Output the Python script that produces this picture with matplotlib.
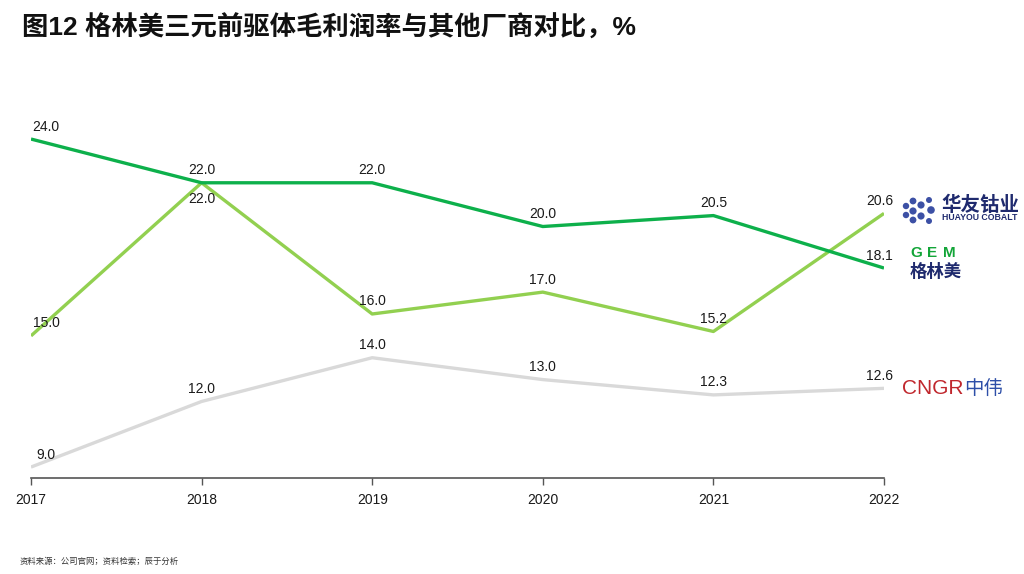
import matplotlib
matplotlib.use("Agg")
import matplotlib.pyplot as plt
from matplotlib.patches import Circle

plt.rcParams['font.family'] = ['Liberation Sans', 'Noto Sans CJK SC', 'DejaVu Sans']

years = [2017, 2018, 2019, 2020, 2021, 2022]
gem = [24.0, 22.0, 22.0, 20.0, 20.5, 18.1]
huayou = [15.0, 22.0, 16.0, 17.0, 15.2, 20.6]
cngr = [9.0, 12.0, 14.0, 13.0, 12.3, 12.6]

title = "图12 格林美三元前驱体毛利润率与其他厂商对比，%"
source = "资料来源：公司官网；资料检索；辰于分析"

c_gem = "#0DB04B"
c_huayou = "#92D050"
c_cngr = "#D9D9D9"

fig = plt.figure(figsize=(10.24, 5.74), dpi=100)
ax = fig.add_axes([31/1024, 1-478/574, (884-31)/1024, (478-62.5)/574])

ax.plot(years, cngr, color=c_cngr, lw=2.4, solid_capstyle='butt', zorder=2)
ax.plot(years, huayou, color=c_huayou, lw=2.4, solid_capstyle='butt', zorder=3)
ax.plot(years, gem, color=c_gem, lw=2.4, solid_capstyle='butt', zorder=4)

ax.set_xlim(2017, 2022)
ax.set_ylim(8.5, 27.5)

def label(series, below_idx=()):
    for i, (x, v) in enumerate(zip(years, series)):
        dx = 0
        if i == 0:
            dx = 11
        elif i == len(years) - 1:
            dx = -3
        dy = -12 if i in below_idx else 9
        ax.annotate(f"{v:.1f}", (x, v), xytext=(dx, dy), textcoords='offset points',
                    ha='center', va='center', fontsize=10, color='#1a1a1a', zorder=6)

label(gem)
label(huayou, below_idx=(1,))
label(cngr)

for s in ['top', 'right', 'left']:
    ax.spines[s].set_visible(False)
ax.spines['bottom'].set_color('#555555')
ax.spines['bottom'].set_linewidth(1.2)
ax.set_yticks([])
ax.set_xticks(years)
ax.set_xticklabels([str(y) for y in years], fontsize=10, color='#1a1a1a')
ax.tick_params(axis='x', direction='out', length=5, width=1, color='#555555', pad=6)
ax.patch.set_alpha(0)

# Title
fig.text(22/1024, 1-28/574, title, fontsize=19, fontweight='bold', ha='left', va='center', color='#111111')

# Source
fig.text(20/1024, 1-562/574, source, fontsize=6, ha='left', va='center', color='#333333')

# Overlay axes in pixel coordinates for logos
lax = fig.add_axes([0, 0, 1, 1])
lax.set_xlim(0, 1024)
lax.set_ylim(574, 0)
lax.axis('off')
lax.patch.set_alpha(0)

# Huayou logo: dot cluster
dots = [(906, 206, 3.2), (906, 215, 3.2), (913, 201, 3.4), (913, 211, 3.6), (913, 220, 3.4),
        (921, 205, 3.6), (921, 216, 3.6), (929, 200, 3.0), (929, 221, 3.0), (931, 210, 3.8)]
for (px, py, r) in dots:
    lax.add_patch(Circle((px, py), r, facecolor='#3C50A5', edgecolor='none'))
lax.text(980, 205, "华友钴业", fontsize=14, fontweight='bold', ha='center', va='center', color='#1F2A6E')
lax.text(980, 218, "HUAYOU COBALT", fontsize=6.3, fontweight='bold', ha='center', va='center', color='#1F2A6E')

# GEM logo
for ch, px in zip("GEM", [910, 927, 943]):
    lax.text(px, 253, ch, fontsize=11, fontweight='bold', ha='left', va='center', color='#13A538')
lax.text(910, 271, "格林美", fontsize=12.5, fontweight='bold', ha='left', va='center', color='#1F2A6E')

# CNGR logo
lax.text(902, 389, "CNGR", fontsize=15, ha='left', va='center', color='#C0272D')
lax.text(964, 389, "中伟", fontsize=14, ha='left', va='center', color='#2E4FA8')

fig.savefig("out.png", dpi=100)
